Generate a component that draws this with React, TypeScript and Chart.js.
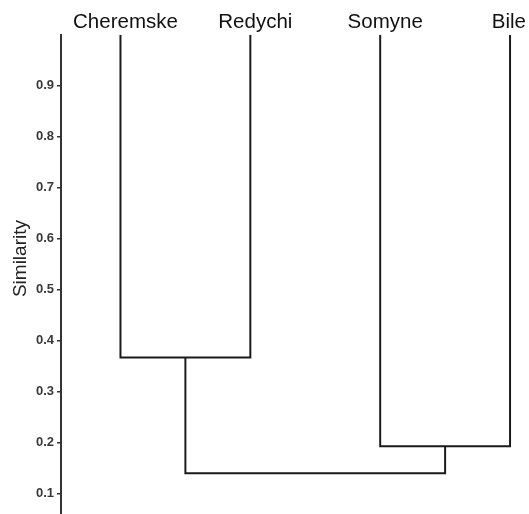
import React, { useEffect, useRef } from "react";
import Chart from "chart.js/auto";

// Leaves (top labels) in dendrogram order
const leaves = ["Cheremske", "Redychi", "Somyne", "Bile"];
const leafHeight = 1.0;
// Merges: child node indices (0..3 leaves, 4+ earlier merges) and similarity level
const mergeLeft = [0, 2, 4];
const mergeRight = [1, 3, 5];
const mergeHeight = [0.367, 0.193, 0.14];
// Y axis tick labels
const tickValues = [0.1, 0.2, 0.3, 0.4, 0.5, 0.6, 0.7, 0.8, 0.9];
const yTitle = "Similarity";
const yMin = 0.06;
const yMax = 1.0;
const xMin = -0.458;
const xMax = 3.146;

function buildSegments() {
  const nx: number[] = leaves.map((_, i) => i);
  const ny: number[] = leaves.map(() => leafHeight);
  const segs: { x: number; y: number }[][] = [];
  mergeHeight.forEach((h, k) => {
    const l = mergeLeft[k];
    const r = mergeRight[k];
    segs.push([
      { x: nx[l], y: ny[l] },
      { x: nx[l], y: h },
      { x: nx[r], y: h },
      { x: nx[r], y: ny[r] },
    ]);
    nx.push((nx[l] + nx[r]) / 2);
    ny.push(h);
  });
  return segs;
}

const labelPlugin = {
  id: "leafLabels",
  afterDraw(chart: any) {
    const { ctx, chartArea, width } = chart;
    const xs = chart.scales.x;
    const ys = chart.scales.y;
    ctx.save();
    ctx.font = "20.5px 'Liberation Sans', Arial, sans-serif";
    ctx.fillStyle = "#111";
    ctx.textAlign = "left";
    ctx.textBaseline = "alphabetic";
    leaves.forEach((name, i) => {
      const w = ctx.measureText(name).width;
      let left = xs.getPixelForValue(i) + 5 - w / 2;
      if (left + w > width - 3) left = width - 3 - w;
      ctx.fillText(name, left, chartArea.top - 6.5);
    });
    // y axis title
    ctx.translate(25.5, ys.getPixelForValue(0.561));
    ctx.rotate(-Math.PI / 2);
    ctx.font = "19px 'Liberation Sans', Arial, sans-serif";
    ctx.fillStyle = "#222";
    ctx.textAlign = "center";
    ctx.fillText(yTitle, 0, 0);
    ctx.restore();
  },
};

export default function App() {
  const ref = useRef<HTMLCanvasElement | null>(null);
  useEffect(() => {
    if (!ref.current) return;
    const segs = buildSegments();
    const chart = new Chart(ref.current, {
      type: "scatter",
      data: {
        datasets: segs.map((s) => ({
          data: s,
          showLine: true,
          pointRadius: 0,
          borderColor: "#1a1a1a",
          borderWidth: 2,
          borderJoinStyle: "miter" as const,
          tension: 0,
          fill: false,
        })),
      },
      options: {
        responsive: false,
        animation: false,
        devicePixelRatio: 1,
        layout: { padding: { top: 34.7, left: 0, right: 0, bottom: 0 } },
        plugins: {
          legend: { display: false },
          tooltip: { enabled: false },
        },
        scales: {
          x: {
            type: "linear",
            min: xMin,
            max: xMax,
            display: false,
          },
          y: {
            type: "linear",
            min: yMin,
            max: yMax,
            afterFit: (scale: any) => {
              scale.width = 61;
              scale.paddingTop = 0;
              scale.paddingBottom = 0;
            },
            afterBuildTicks: (scale: any) => {
              scale.ticks = tickValues.map((v) => ({ value: v }));
            },
            border: { display: true, color: "#333", width: 2 },
            grid: {
              drawOnChartArea: false,
              drawTicks: true,
              tickLength: 4,
              tickColor: "#333",
              lineWidth: 1.5,
            },
            ticks: {
              padding: 3,
              color: "#383838",
              font: { family: "'Liberation Sans', Arial", size: 13, weight: "bold" },
              callback: (v: any) => Number(v).toFixed(1),
            },
            title: { display: false },
          },
        },
      },
      plugins: [labelPlugin],
    } as any);
    return () => chart.destroy();
  }, []);
  return (
    <div style={{ position: "fixed", left: 0, top: 0, width: 529, height: 514, background: "#fff" }}>
      <canvas ref={ref} width={529} height={514} style={{ display: "block" }} />
    </div>
  );
}
